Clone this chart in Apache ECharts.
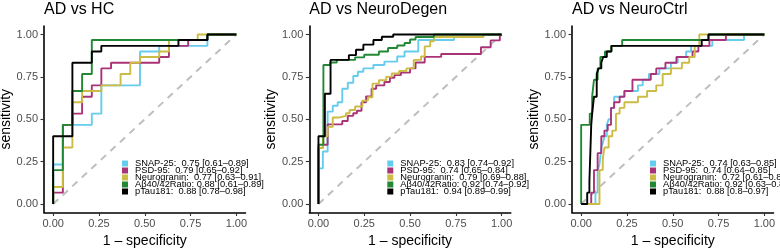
<!DOCTYPE html>
<html>
<head>
<meta charset="utf-8">
<script src="https://cdn.jsdelivr.net/npm/echarts@6/dist/echarts.min.js"></script>
<style>html,body{margin:0;padding:0;background:#fff}#c{width:780px;height:248px}</style>
</head>
<body>
<div id="c"></div>
<script>
// ---------------- data ----------------
const panelTitles = ['AD vs HC', 'AD vs NeuroDegen', 'AD vs NeuroCtrl'];
const markers = ['SNAP-25', 'PSD-95', 'Neurogranin', 'Aβ40/42Ratio', 'pTau181'];
const markerColors = ['#66CCEE', '#AA3377', '#CCBB44', '#228833', '#000000'];
const tickValues = [0, 0.25, 0.5, 0.75, 1];
const diagonal = [[0, 0], [1, 1]];

const aucHC = ['0.75 [0.61–0.89]', '0.79 [0.65–0.92]', '0.77 [0.63–0.91]', '0.88 [0.61–0.89]', '0.88 [0.78–0.98]'];
const aucND = ['0.83 [0.74–0.92]', '0.74 [0.65–0.84]', '0.79 [0.69–0.88]', '0.92 [0.74–0.92]', '0.94 [0.89–0.99]'];
const aucNC = ['0.74 [0.63–0.85]', '0.74 [0.64–0.85]', '0.72 [0.61–0.83]', '0.92 [0.63–0.85]', '0.88 [0.8–0.97]'];

// ROC curves: [1 - specificity, sensitivity]
const hcSnap = [[0,0],[0,0.233],[0.053,0.233],[0.053,0.467],[0.211,0.467],[0.211,0.533],[0.263,0.533],[0.263,0.7],[0.474,0.7],[0.474,0.9],[0.579,0.9],[0.579,0.933],[0.842,0.933],[0.842,1],[1,1]];
const hcPsd = [[0,0],[0,0.067],[0.053,0.067],[0.053,0.467],[0.105,0.467],[0.105,0.533],[0.158,0.533],[0.158,0.633],[0.211,0.633],[0.211,0.7],[0.263,0.7],[0.263,0.8],[0.316,0.8],[0.316,0.833],[0.579,0.833],[0.579,0.867],[0.632,0.867],[0.632,0.933],[0.737,0.933],[0.737,0.967],[0.842,0.967],[0.842,1],[1,1]];
const hcNrgn = [[0,0],[0,0.1],[0.053,0.1],[0.053,0.333],[0.105,0.333],[0.105,0.6],[0.158,0.6],[0.158,0.667],[0.263,0.667],[0.263,0.7],[0.368,0.7],[0.368,0.767],[0.421,0.767],[0.421,0.833],[0.474,0.833],[0.474,0.867],[0.579,0.867],[0.579,0.9],[0.632,0.9],[0.632,0.967],[0.789,0.967],[0.789,1],[1,1]];
const hcAb = [[0,0],[0,0.2],[0.053,0.2],[0.053,0.467],[0.105,0.467],[0.105,0.667],[0.158,0.667],[0.158,0.767],[0.211,0.767],[0.211,0.967],[0.842,0.967],[0.842,1],[1,1]];
const hcPtau = [[0,0],[0,0.4],[0.105,0.4],[0.105,0.833],[0.211,0.833],[0.211,0.9],[0.263,0.9],[0.263,0.933],[0.684,0.933],[0.684,0.967],[0.842,0.967],[0.842,1],[1,1]];

const ndSnap = [[0,0],[0,0.21],[0.024,0.21],[0.024,0.31],[0.05,0.31],[0.05,0.545],[0.078,0.545],[0.078,0.58],[0.105,0.58],[0.105,0.6],[0.13,0.6],[0.13,0.68],[0.16,0.68],[0.16,0.715],[0.19,0.715],[0.19,0.755],[0.215,0.755],[0.215,0.78],[0.245,0.78],[0.245,0.8],[0.3,0.8],[0.3,0.82],[0.36,0.82],[0.36,0.84],[0.43,0.84],[0.43,0.87],[0.47,0.87],[0.47,0.9],[0.545,0.9],[0.545,0.967],[0.74,0.967],[0.74,0.985],[0.9,0.985],[0.9,1],[1,1]];
const ndPsd = [[0,0],[0,0.33],[0.024,0.33],[0.024,0.35],[0.05,0.35],[0.05,0.47],[0.13,0.47],[0.13,0.49],[0.16,0.49],[0.16,0.52],[0.19,0.52],[0.19,0.535],[0.21,0.535],[0.21,0.55],[0.235,0.55],[0.235,0.6],[0.26,0.6],[0.26,0.635],[0.29,0.635],[0.29,0.68],[0.315,0.68],[0.315,0.7],[0.36,0.7],[0.36,0.72],[0.39,0.72],[0.39,0.745],[0.415,0.745],[0.415,0.76],[0.45,0.76],[0.45,0.775],[0.5,0.775],[0.5,0.8],[0.53,0.8],[0.53,0.835],[0.58,0.835],[0.58,0.868],[0.67,0.868],[0.67,0.885],[0.887,0.885],[0.887,0.925],[0.94,0.925],[0.94,0.965],[0.99,0.965],[0.99,0.99],[1,0.99],[1,1]];
const ndNrgn = [[0,0],[0,0.33],[0.024,0.33],[0.024,0.4],[0.05,0.4],[0.05,0.455],[0.078,0.455],[0.078,0.51],[0.11,0.51],[0.11,0.52],[0.15,0.52],[0.15,0.535],[0.17,0.535],[0.17,0.555],[0.2,0.555],[0.2,0.575],[0.24,0.575],[0.24,0.61],[0.27,0.61],[0.27,0.63],[0.295,0.63],[0.295,0.71],[0.33,0.71],[0.33,0.73],[0.37,0.73],[0.37,0.75],[0.4,0.75],[0.4,0.77],[0.44,0.77],[0.44,0.785],[0.48,0.785],[0.48,0.8],[0.52,0.8],[0.52,0.85],[0.56,0.85],[0.56,0.87],[0.58,0.87],[0.58,0.93],[0.61,0.93],[0.61,0.96],[0.63,0.96],[0.63,0.985],[0.9,0.985],[0.9,1],[1,1]];
const ndAb = [[0,0],[0,0.35],[0.027,0.35],[0.027,0.82],[0.064,0.82],[0.064,0.835],[0.1,0.835],[0.1,0.85],[0.2,0.85],[0.2,0.865],[0.25,0.865],[0.25,0.88],[0.33,0.88],[0.33,0.9],[0.38,0.9],[0.38,0.92],[0.43,0.92],[0.43,0.935],[0.47,0.935],[0.47,0.95],[0.5,0.95],[0.5,0.97],[0.53,0.97],[0.53,0.985],[0.63,0.985],[0.63,1],[1,1]];
const ndPtau = [[0,0],[0,0.4],[0.035,0.4],[0.035,0.65],[0.066,0.65],[0.066,0.85],[0.166,0.85],[0.166,0.878],[0.205,0.878],[0.205,0.91],[0.245,0.91],[0.245,0.94],[0.3,0.94],[0.3,0.967],[0.346,0.967],[0.346,0.987],[0.408,0.987],[0.408,1],[1,1]];

const ncSnap = [[0,0],[0.078,0],[0.078,0.067],[0.09,0.067],[0.09,0.2],[0.1,0.2],[0.1,0.233],[0.11,0.233],[0.11,0.333],[0.12,0.333],[0.12,0.367],[0.127,0.367],[0.127,0.4],[0.14,0.4],[0.14,0.467],[0.15,0.467],[0.15,0.5],[0.163,0.5],[0.163,0.567],[0.18,0.567],[0.18,0.633],[0.236,0.633],[0.236,0.667],[0.31,0.667],[0.31,0.7],[0.336,0.7],[0.336,0.733],[0.37,0.733],[0.37,0.767],[0.427,0.767],[0.427,0.8],[0.49,0.8],[0.49,0.833],[0.527,0.833],[0.527,0.867],[0.573,0.867],[0.573,0.9],[0.6,0.9],[0.6,0.933],[0.716,0.933],[0.716,0.967],[0.889,0.967],[0.889,1],[1,1]];
const ncPsd = [[0,0],[0.055,0],[0.055,0.067],[0.07,0.067],[0.07,0.2],[0.09,0.2],[0.09,0.3],[0.11,0.3],[0.11,0.4],[0.127,0.4],[0.127,0.433],[0.145,0.433],[0.145,0.467],[0.163,0.467],[0.163,0.567],[0.18,0.567],[0.18,0.6],[0.21,0.6],[0.21,0.633],[0.236,0.633],[0.236,0.667],[0.28,0.667],[0.28,0.733],[0.38,0.733],[0.38,0.767],[0.41,0.767],[0.41,0.8],[0.46,0.8],[0.46,0.833],[0.52,0.833],[0.52,0.867],[0.608,0.867],[0.608,0.9],[0.64,0.9],[0.64,0.933],[0.7,0.933],[0.7,0.967],[0.79,0.967],[0.79,1],[1,1]];
const ncNrgn = [[0,0],[0.1,0],[0.1,0.2],[0.118,0.2],[0.118,0.267],[0.127,0.267],[0.127,0.333],[0.15,0.333],[0.15,0.4],[0.17,0.4],[0.17,0.433],[0.19,0.433],[0.19,0.533],[0.21,0.533],[0.21,0.567],[0.236,0.567],[0.236,0.6],[0.31,0.6],[0.31,0.633],[0.36,0.633],[0.36,0.667],[0.41,0.667],[0.41,0.7],[0.445,0.7],[0.445,0.767],[0.49,0.767],[0.49,0.8],[0.55,0.8],[0.55,0.833],[0.59,0.833],[0.59,0.867],[0.62,0.867],[0.62,0.933],[0.645,0.933],[0.645,1],[1,1]];
const ncAb = [[0,0],[0,0.467],[0.047,0.467],[0.047,0.533],[0.06,0.533],[0.06,0.633],[0.07,0.633],[0.07,0.733],[0.09,0.733],[0.09,0.8],[0.105,0.8],[0.105,0.867],[0.13,0.867],[0.13,0.9],[0.165,0.9],[0.165,0.933],[0.224,0.933],[0.224,0.967],[0.695,0.967],[0.695,1],[1,1]];
const ncPtau = [[0,0],[0.033,0],[0.033,0.067],[0.045,0.067],[0.045,0.133],[0.055,0.133],[0.055,0.467],[0.06,0.467],[0.06,0.533],[0.07,0.533],[0.07,0.633],[0.085,0.633],[0.085,0.767],[0.095,0.767],[0.095,0.8],[0.11,0.8],[0.11,0.833],[0.12,0.833],[0.12,0.867],[0.14,0.867],[0.14,0.9],[0.165,0.9],[0.165,0.933],[0.658,0.933],[0.658,0.967],[0.695,0.967],[0.695,1],[1,1]];

const panelCurves = [
  [hcSnap, hcPsd, hcNrgn, hcAb, hcPtau],
  [ndSnap, ndPsd, ndNrgn, ndAb, ndPtau],
  [ncSnap, ncPsd, ncNrgn, ncAb, ncPtau]
];
const panelAuc = [aucHC, aucND, aucNC];

// ---------------- layout ----------------
const FONT = '"Liberation Sans", Arial, Helvetica, sans-serif';
const gridLefts = [44, 309.3, 572];
const gridW = 201.5, gridTop = 26, gridH = 186.5;

const option = {
  animation: false,
  backgroundColor: '#fff',
  textStyle: { fontFamily: FONT },
  title: [], grid: [], xAxis: [], yAxis: [], legend: [], series: []
};

panelTitles.forEach((t, p) => {
  const L = gridLefts[p];
  option.title.push({ text: t, left: L, top: 0, padding: [2, 0, 0, 0], textStyle: { fontFamily: FONT, fontSize: 16, fontWeight: 'normal', color: '#000' } });
  option.grid.push({ left: L, top: gridTop, width: gridW, height: gridH, outerBoundsMode: 'none', containLabel: false });
  const axisCommon = {
    type: 'value', min: -0.05, max: 1.05, gridIndex: p,
    splitLine: { show: false },
    axisLine: { show: true, onZero: false, lineStyle: { color: '#000', width: 1.6 } },
    axisTick: { show: true, customValues: tickValues, length: 3.5, lineStyle: { color: '#333', width: 1.1 } },
    axisLabel: { customValues: tickValues, formatter: v => v.toFixed(2), fontSize: 11, color: '#4D4D4D', fontFamily: FONT },
    nameLocation: 'middle',
    nameTextStyle: { fontSize: 14, color: '#000', fontFamily: FONT }
  };
  option.xAxis.push(Object.assign({}, axisCommon, { name: '1 – specificity', nameGap: 21, axisLabel: Object.assign({}, axisCommon.axisLabel, { margin: 6 }) }));
  option.yAxis.push(Object.assign({}, axisCommon, { name: 'sensitivity', nameGap: 28, axisLabel: Object.assign({}, axisCommon.axisLabel, { margin: 6 }) }));

  option.series.push({
    type: 'line', name: 'diag', xAxisIndex: p, yAxisIndex: p, data: diagonal, symbol: 'none', silent: true,
    lineStyle: { color: '#BEBEBE', width: 2, type: [7, 6] }, z: 1
  });
  markers.forEach((m, i) => {
    option.series.push({
      type: 'line', name: m, xAxisIndex: p, yAxisIndex: p, data: panelCurves[p][i],
      symbol: 'none', showSymbol: false, z: 2 + i,
      itemStyle: { color: markerColors[i] },
      lineStyle: { color: markerColors[i], width: 1.9 }
    });
  });
  const aucs = panelAuc[p];
  option.legend.push({
    data: markers, orient: 'vertical', left: L + 78, top: 159, padding: 0,
    icon: 'rect', itemWidth: 6, itemHeight: 6, itemGap: -2, selectedMode: false,
    formatter: name => { const i = markers.indexOf(name); return name + (name === 'Aβ40/42Ratio' ? ': ' : ':  ') + aucs[i]; },
    textStyle: { fontFamily: FONT, fontSize: 9.3, lineHeight: 9, color: '#000', padding: [0, 0, 0, 2] }
  });
});

const chart = echarts.init(document.getElementById('c'), null, { renderer: 'canvas' });
chart.setOption(option);
</script>
</body>
</html>
